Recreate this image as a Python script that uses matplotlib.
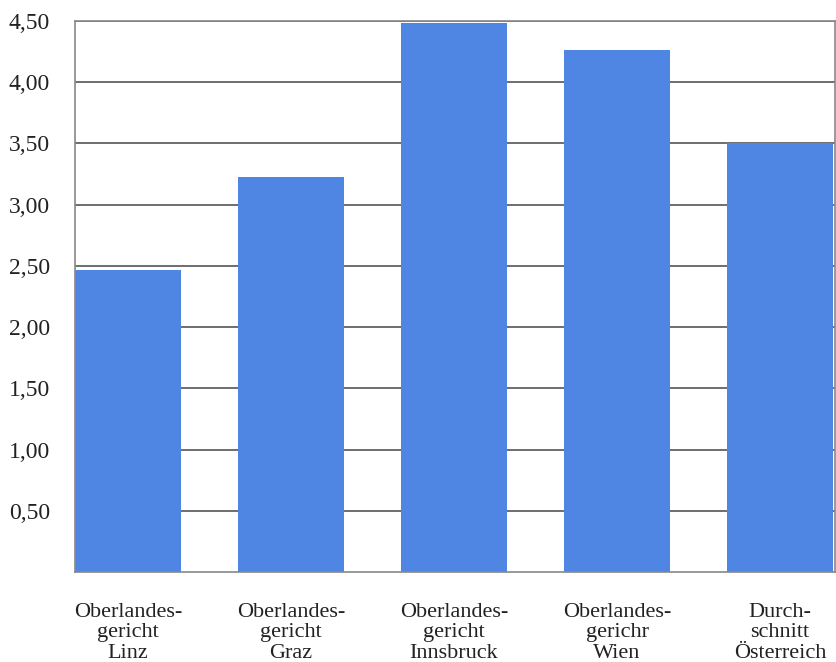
# Oberlandesgerichte im Vergleich
import matplotlib.pyplot as plt
from matplotlib.ticker import FuncFormatter

categories = ["Oberlandes-\ngericht\nLinz", "Oberlandes-\ngericht\nGraz",
              "Oberlandes-\ngericht\nInnsbruck", "Oberlandes-\ngerichr\nWien",
              "Durch-\nschnitt\nÖsterreich"]
values = [2.47, 3.23, 4.48, 4.26, 3.50]
yticks = [0.5, 1.0, 1.5, 2.0, 2.5, 3.0, 3.5, 4.0, 4.5]

plt.rcParams['font.family'] = ['Liberation Serif', 'DejaVu Serif']

fig = plt.figure(figsize=(8.37, 6.62), dpi=100)
ax = fig.add_axes([75 / 837, 90 / 662, 760 / 837, 551 / 662])

x = range(len(categories))
ax.bar(x, values, width=0.65, color='#4f86e3', zorder=2)

ax.set_ylim(0, 4.5)
ax.set_xlim(-0.325, 4.337)
ax.set_yticks(yticks)
ax.yaxis.set_major_formatter(FuncFormatter(lambda v, p: f"{v:.2f}".replace('.', ',')))
ax.set_xticks(list(x))
ax.set_xticklabels(categories, fontsize=16, linespacing=1.12)
ax.tick_params(axis='y', length=0, pad=18, labelsize=17, colors='#222222')
ax.tick_params(axis='x', length=0, pad=22, colors='#222222')
ax.grid(axis='y', color='#555555', linewidth=1.2, zorder=1)
for s in ax.spines.values():
    s.set_color('#888888')
    s.set_linewidth(1.2)

fig.savefig('out.png', dpi=100)
